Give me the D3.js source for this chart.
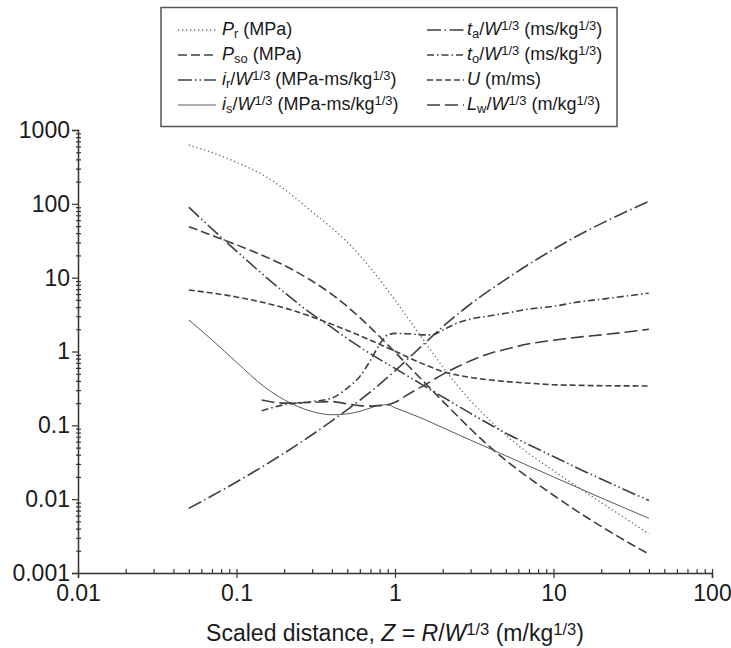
<!DOCTYPE html>
<html>
<head>
<meta charset="utf-8">
<script src="https://cdn.jsdelivr.net/npm/d3@7"></script>
<style>
  html, body { margin: 0; padding: 0; background: #fff; }
  svg { display: block; font-family: "Liberation Sans", Arial, Helvetica, sans-serif; }
</style>
</head>
<body>
<svg id="chart" width="731" height="648"></svg>
<script>
// ---------------- DATA ----------------
const xMajorTicks = [0.01, 0.1, 1, 10, 100];
const xTickLabels = ["0.01", "0.1", "1", "10", "100"];
const yMajorTicks = [0.001, 0.01, 0.1, 1, 10, 100, 1000];
const yTickLabels = ["0.001", "0.01", "0.1", "1", "10", "100", "1000"];

const zFull = [0.05, 0.07, 0.1, 0.15, 0.2, 0.3, 0.4, 0.5, 0.7, 1, 1.5, 2, 3, 4, 5, 7, 10, 15, 20, 30, 40];

const Pr  = [627, 496, 366, 240, 158, 77.8, 46.9, 30.3, 13.5, 4.97, 1.47, 0.62, 0.216, 0.115, 0.0734, 0.0415, 0.0243, 0.0135, 0.009, 0.0051, 0.0034];
const Pso = [49, 37.4, 27.9, 19.5, 14.7, 9.0, 5.94, 4.06, 2.11, 0.98, 0.40, 0.213, 0.0893, 0.0502, 0.0336, 0.0194, 0.0113, 0.0063, 0.00428, 0.00255, 0.0018];
const ir  = [90, 45.9, 22.9, 10.6, 6.32, 3.2, 2.1, 1.5, 0.93, 0.59, 0.35, 0.243, 0.145, 0.102, 0.0785, 0.0546, 0.0377, 0.0249, 0.0187, 0.0126, 0.0096];
const ta  = [0.0075, 0.0111, 0.0171, 0.0286, 0.042, 0.0746, 0.115, 0.163, 0.283, 0.548, 1.23, 2.16, 4.4, 6.87, 9.5, 15.2, 24.2, 39.4, 54, 81.8, 108];
const U   = [6.8, 6.2, 5.48, 4.57, 3.9, 2.94, 2.33, 1.93, 1.42, 1.01, 0.68, 0.536, 0.445, 0.412, 0.392, 0.372, 0.355, 0.348, 0.344, 0.342, 0.341];

const zIs = [0.05, 0.07, 0.1, 0.15, 0.2, 0.3, 0.4, 0.5, 0.6, 0.7, 0.8, 0.9, 1, 1.5, 2, 3, 5, 10, 20, 40];
const is  = [2.67, 1.44, 0.716, 0.332, 0.222, 0.154, 0.139, 0.143, 0.155, 0.172, 0.187, 0.19, 0.173, 0.123, 0.093, 0.063, 0.0387, 0.02, 0.0104, 0.0055];

const zTo = [0.144, 0.2, 0.3, 0.4, 0.5, 0.6, 0.7, 0.8, 0.9, 1, 1.2, 1.5, 1.7, 2, 2.5, 3, 4, 5, 7, 10, 15, 20, 30, 40];
const to  = [0.158, 0.19, 0.21, 0.235, 0.32, 0.46, 0.76, 1.25, 1.68, 1.76, 1.74, 1.68, 1.68, 1.95, 2.45, 2.75, 3.05, 3.3, 3.75, 4.1, 4.75, 5.1, 5.7, 6.2];

const zLw = [0.144, 0.2, 0.3, 0.4, 0.5, 0.6, 0.7, 0.8, 0.9, 1, 1.2, 1.5, 2, 3, 4, 5, 7, 10, 15, 20, 30, 40];
const Lw  = [0.22, 0.2, 0.205, 0.21, 0.195, 0.185, 0.182, 0.185, 0.19, 0.205, 0.26, 0.34, 0.49, 0.75, 0.95, 1.07, 1.27, 1.42, 1.58, 1.68, 1.85, 2.0];

// ---------------- STYLE ----------------
const lineColor = "#3f3f3f";
const series = [
  { key: "Pr",  z: zFull, v: Pr,  dash: "1.3,2.7", w: 1.3, color: "#6a6a6a", col: 0, row: 0,
    label: [{t: "P", i: true}, {t: "r", sub: true}, {t: " (MPa)"}] },
  { key: "Pso", z: zFull, v: Pso, dash: "9,4", w: 1.6, color: lineColor, col: 0, row: 1,
    label: [{t: "P", i: true}, {t: "so", sub: true}, {t: " (MPa)"}] },
  { key: "ir",  z: zFull, v: ir,  dash: "14,3,1.5,3,1.5,3", w: 1.6, color: lineColor, col: 0, row: 2,
    label: [{t: "i", i: true}, {t: "r", sub: true}, {t: "/"}, {t: "W", i: true}, {t: "1/3", sup: true}, {t: " (MPa-ms/kg"}, {t: "1/3", sup: true}, {t: ")"}] },
  { key: "is",  z: zIs,   v: is,  dash: null, w: 1.0, color: "#5a5a5a", col: 0, row: 3,
    label: [{t: "i", i: true}, {t: "s", sub: true}, {t: "/"}, {t: "W", i: true}, {t: "1/3", sup: true}, {t: " (MPa-ms/kg"}, {t: "1/3", sup: true}, {t: ")"}] },
  { key: "ta",  z: zFull, v: ta,  dash: "14,3.5,1.5,3.5", w: 1.6, color: lineColor, col: 1, row: 0,
    label: [{t: "t", i: true}, {t: "a", sub: true}, {t: "/"}, {t: "W", i: true}, {t: "1/3", sup: true}, {t: " (ms/kg"}, {t: "1/3", sup: true}, {t: ")"}] },
  { key: "to",  z: zTo,   v: to,  dash: "7,3,1.5,3", w: 1.6, color: lineColor, col: 1, row: 1,
    label: [{t: "t", i: true}, {t: "o", sub: true}, {t: "/"}, {t: "W", i: true}, {t: "1/3", sup: true}, {t: " (ms/kg"}, {t: "1/3", sup: true}, {t: ")"}] },
  { key: "U",   z: zFull, v: U,   dash: "6,3", w: 1.6, color: lineColor, col: 1, row: 2,
    label: [{t: "U", i: true}, {t: " (m/ms)"}] },
  { key: "Lw",  z: zLw,   v: Lw,  dash: "13,5", w: 1.6, color: lineColor, col: 1, row: 3,
    label: [{t: "L", i: true}, {t: "w", sub: true}, {t: "/"}, {t: "W", i: true}, {t: "1/3", sup: true}, {t: " (m/kg"}, {t: "1/3", sup: true}, {t: ")"}] }
];

// ---------------- CHART ----------------
const svg = d3.select("#chart");
const x = d3.scaleLog().domain([0.01, 100]).range([78, 712]);
const y = d3.scaleLog().domain([0.001, 1000]).range([573, 130]);

const axisColor = "#333";
const tickFont = 23;

// minor ticks
const minorVals = [];
for (let e = -3; e < 3; e++) for (let m = 2; m <= 9; m++) minorVals.push(m * Math.pow(10, e));
const xMinor = minorVals.filter(v => v > 0.01 && v < 100);
const yMinor = minorVals.filter(v => v > 0.001 && v < 1000);

// X axis
const gx = svg.append("g").attr("transform", "translate(0,573)");
gx.call(d3.axisBottom(x).tickValues(xMajorTicks).tickSize(5).tickPadding(5)
  .tickFormat((d, i) => xTickLabels[i]));
gx.append("g").call(d3.axisTop(x).tickValues(xMajorTicks).tickSize(4).tickFormat(""))
  .select(".domain").remove();
gx.append("g").call(d3.axisTop(x).tickValues(xMinor).tickSize(4).tickFormat(""))
  .select(".domain").remove();

// Y axis
const gy = svg.append("g").attr("transform", "translate(78,0)");
gy.call(d3.axisLeft(y).tickValues(yMajorTicks).tickSize(6).tickPadding(2)
  .tickFormat((d, i) => yTickLabels[i]));
gy.append("g").call(d3.axisRight(y).tickValues(yMinor).tickSize(3).tickFormat(""))
  .select(".domain").remove();
gy.append("g").call(d3.axisLeft(y).tickValues(yMinor).tickSize(2).tickFormat(""))
  .select(".domain").remove();

svg.selectAll(".domain").attr("stroke", axisColor).attr("stroke-width", 1.5);
svg.selectAll(".tick line").attr("stroke", axisColor).attr("stroke-width", 1.2);
svg.selectAll(".tick text").attr("font-size", tickFont).attr("fill", "#1a1a1a")
  .attr("font-family", "Liberation Sans, Arial, sans-serif");
gx.selectAll(".tick text").attr("dy", "0.8em");

// rich text helper
function richText(sel, parts, size) {
  parts.forEach(p => {
    const ts = sel.append("tspan").text(p.t);
    if (p.i) ts.attr("font-style", "italic");
    if (p.sub) ts.attr("font-size", size * 0.72).attr("baseline-shift", "-25%");
    if (p.sup) ts.attr("font-size", size * 0.72).attr("baseline-shift", "38%");
  });
}

// Curves
const line = d3.line().x(d => x(d[0])).y(d => y(d[1])).curve(d3.curveMonotoneX);
series.forEach(s => {
  const pts = s.z.map((z, i) => [z, s.v[i]]);
  svg.append("path")
    .attr("d", line(pts))
    .attr("fill", "none")
    .attr("stroke", s.color)
    .attr("stroke-width", s.w)
    .attr("stroke-dasharray", s.dash)
    .attr("stroke-linecap", "butt");
});

// X axis title
const title = svg.append("text")
  .attr("x", 395).attr("y", 641)
  .attr("text-anchor", "middle")
  .attr("font-size", 23)
  .attr("fill", "#1a1a1a");
richText(title, [{t: "Scaled distance, "}, {t: "Z", i: true}, {t: " = "}, {t: "R", i: true}, {t: "/"},
  {t: "W", i: true}, {t: "1/3", sup: true}, {t: " (m/kg"}, {t: "1/3", sup: true}, {t: ")"}], 23);

// Legend
const legend = svg.append("g");
legend.append("rect")
  .attr("x", 161).attr("y", 7.5).attr("width", 456).attr("height", 119)
  .attr("fill", "#fff").attr("stroke", "#555").attr("stroke-width", 1.5);
const legFont = 18;
const colX = [{l0: 178, l1: 216, t: 222}, {l0: 427, l1: 464, t: 467}];
const rowY = [35, 60, 85, 110];
series.forEach(s => {
  const c = colX[s.col], yy = rowY[s.row] - 5;
  legend.append("line")
    .attr("x1", c.l0).attr("x2", c.l1).attr("y1", yy).attr("y2", yy)
    .attr("stroke", s.color).attr("stroke-width", s.w)
    .attr("stroke-dasharray", s.dash);
  const t = legend.append("text")
    .attr("x", c.t).attr("y", rowY[s.row])
    .attr("font-size", legFont).attr("fill", "#1a1a1a");
  richText(t, s.label, legFont);
});
</script>
</body>
</html>
